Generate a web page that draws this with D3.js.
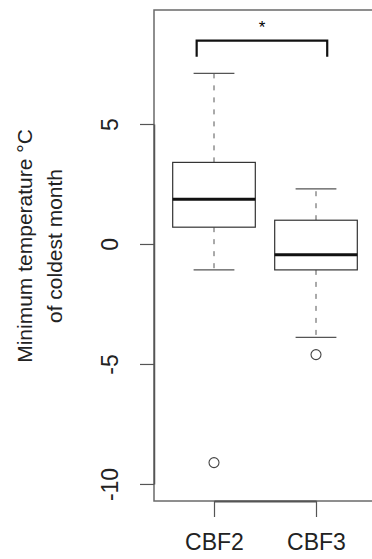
<!DOCTYPE html>
<html>
<head>
<meta charset="utf-8">
<script src="https://cdn.jsdelivr.net/npm/d3@7"></script>
<style>
  body { margin: 0; background: #fff; }
  svg { display: block; font-family: "Liberation Sans", Arial, sans-serif; }
</style>
</head>
<body>
<svg id="drawing_region"></svg>
<script>
// data
const groups = ["CBF2", "CBF3"];
const lowerWhisker = [-1.08, -3.89];
const q1 = [0.70, -1.08];
const median = [1.86, -0.45];
const q3 = [3.40, 0.99];
const upperWhisker = [7.11, 2.30];
const outliers = [[-9.11], [-4.61]];
const yTicks = [-10, -5, 0, 5];
const yTitle = ["Minimum temperature \u00B0C", "of coldest month"];
const signifLabel = "*";
const bracket = {from: 0.83, to: 2.11, top: 8.47, bottom: 7.8};

const width = 372, height = 559;
const frame = {left: 154, top: 10, bottom: 501};

const svg = d3.select('#drawing_region')
    .attr('width', width)
    .attr('height', height);

// scales: group index (1,2) -> x, value -> y
const xscale = d3.scaleLinear().domain([1, 2]).range([214, 316]);
const yscale = d3.scaleLinear().domain([-10.71, 9.75]).range([frame.bottom, frame.top]);
const boxHalf = 0.405;
const capHalf = 0.2;

// plot frame (right side falls off the picture)
svg.append('rect')
    .attr('x', frame.left)
    .attr('y', frame.top)
    .attr('width', 400)
    .attr('height', frame.bottom - frame.top)
    .attr('fill', 'none')
    .attr('stroke', '#6a6a6a')
    .attr('stroke-width', 1.5);

// boxes
const box = svg.append('g');
groups.forEach((g, i) => {
    const c = i + 1;
    const item = box.append('g');
    // whiskers
    item.append('line')
        .attr('x1', xscale(c)).attr('x2', xscale(c))
        .attr('y1', yscale(q3[i])).attr('y2', yscale(upperWhisker[i]))
        .attr('stroke', '#555').attr('stroke-dasharray', '5,7');
    item.append('line')
        .attr('x1', xscale(c)).attr('x2', xscale(c))
        .attr('y1', yscale(q1[i])).attr('y2', yscale(lowerWhisker[i]))
        .attr('stroke', '#555').attr('stroke-dasharray', '5,7');
    // caps
    [upperWhisker[i], lowerWhisker[i]].forEach(v => {
        item.append('line')
            .attr('x1', xscale(c - capHalf)).attr('x2', xscale(c + capHalf))
            .attr('y1', yscale(v)).attr('y2', yscale(v))
            .attr('stroke', '#555').attr('stroke-width', 1.2);
    });
    item.append('rect')
        .attr('x', xscale(c - boxHalf))
        .attr('y', yscale(q3[i]))
        .attr('width', xscale(c + boxHalf) - xscale(c - boxHalf))
        .attr('height', yscale(q1[i]) - yscale(q3[i]))
        .attr('fill', 'white')
        .attr('stroke', '#333')
        .attr('stroke-width', 1.2);
    item.append('line')
        .attr('x1', xscale(c - boxHalf)).attr('x2', xscale(c + boxHalf))
        .attr('y1', yscale(median[i])).attr('y2', yscale(median[i]))
        .attr('stroke', '#111').attr('stroke-width', 3);
    item.selectAll('circle')
        .data(outliers[i])
        .join('circle')
        .attr('cx', xscale(c))
        .attr('cy', d => yscale(d))
        .attr('r', 5)
        .attr('fill', 'none')
        .attr('stroke', '#444')
        .attr('stroke-width', 1.1);
});

// significance bracket
svg.append('path')
    .attr('d', d3.line()([
        [xscale(bracket.from), yscale(bracket.bottom)],
        [xscale(bracket.from), yscale(bracket.top)],
        [xscale(bracket.to), yscale(bracket.top)],
        [xscale(bracket.to), yscale(bracket.bottom)]
    ]))
    .attr('fill', 'none')
    .attr('stroke', '#111')
    .attr('stroke-width', 2.2);

svg.append('text')
    .attr('x', xscale((bracket.from + bracket.to) / 2))
    .attr('y', 33)
    .attr('text-anchor', 'middle')
    .attr('font-size', 17)
    .text(signifLabel);

// y axis
const yaxisScale = yscale.copy().domain([-10, 5]).range([yscale(-10), yscale(5)]);
const yaxis = d3.axisLeft(yaxisScale)
    .tickValues(yTicks)
    .tickFormat(d => String(d))   // plain hyphen like R
    .tickSize(14)
    .tickSizeOuter(0);

const yaxis_group = svg.append('g')
    .attr('transform', `translate(${frame.left}, 0)`)
    .call(yaxis);
yaxis_group.select('.domain').attr('stroke', '#555').attr('stroke-width', 1.5);
yaxis_group.selectAll('.tick line').attr('stroke', '#555').attr('stroke-width', 1.2);
yaxis_group.selectAll('.tick text')
    .attr('x', null).attr('dy', null)
    .attr('transform', 'translate(-36,0) rotate(-90)')
    .attr('text-anchor', 'middle')
    .attr('font-size', 23)
    .attr('font-family', '"Liberation Sans", Arial, sans-serif')
    .attr('fill', '#222');

// x axis
const xaxis = d3.axisBottom(xscale)
    .tickValues([1, 2])
    .tickFormat(d => groups[d - 1])
    .tickSize(16)
    .tickSizeOuter(0)
    .tickPadding(17);

const xaxis_group = svg.append('g')
    .attr('transform', `translate(0, ${frame.bottom})`)
    .call(xaxis);
xaxis_group.select('.domain').attr('stroke', '#555').attr('stroke-width', 2);
xaxis_group.selectAll('.tick line').attr('stroke', '#555').attr('stroke-width', 1.2);
xaxis_group.selectAll('.tick text')
    .attr('font-size', 23)
    .attr('font-family', '"Liberation Sans", Arial, sans-serif')
    .attr('fill', '#222');

// y title, two lines
const ytitle = svg.append('g')
    .attr('transform', 'translate(0, 246) rotate(-90)');
ytitle.selectAll('text')
    .data(yTitle)
    .join('text')
    .attr('x', 0)
    .attr('y', (d, i) => 32 + i * 30)
    .attr('text-anchor', 'middle')
    .attr('font-size', 21)
    .attr('fill', '#222')
    .text(d => d);
</script>
</body>
</html>
